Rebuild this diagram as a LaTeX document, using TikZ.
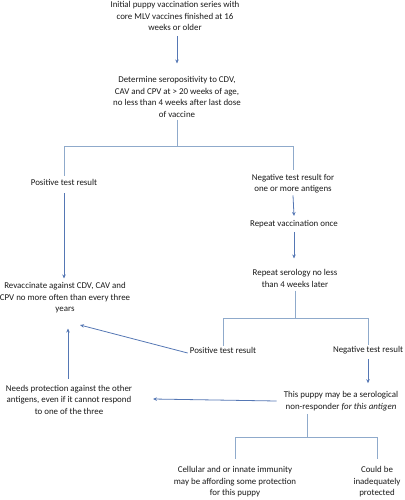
\documentclass[tikz,border=0pt]{standalone}
\usepackage{fontspec}
\setmainfont{Carlito}
\usetikzlibrary{arrows.meta}
\definecolor{lc}{HTML}{8FAACB}
\definecolor{ac}{HTML}{5577B4}
\begin{document}
\begin{tikzpicture}[x=1pt,y=-1pt,
  txt/.style={align=center,inner sep=0pt,font=\fontsize{8.9}{11.5}\selectfont,text=black!90},
  ln/.style={draw=lc,line width=0.8pt},
  arr/.style={draw=ac,line width=0.8pt,-{Stealth[length=4pt,width=3.5pt]}}]
\useasboundingbox (0,0) rectangle (404,500);
\node[txt] (n1) at (175,16) {Initial puppy vaccination series with\\core MLV vaccines finished at 16\\weeks or older};
\node[txt] (n2) at (177,97) {Determine seropositivity to CDV,\\CAV and CPV at > 20 weeks of age,\\no less than 4 weeks after last dose\\of vaccine};
\node[txt] (pos1) at (64,182) {Positive test result};
\node[txt] (neg1) at (293,183.5) {Negative test result for\\one or more antigens};
\node[txt] (rv) at (294,224) {Repeat vaccination once};
\node[txt] (rs) at (295,278.5) {Repeat serology no less\\than 4 weeks later};
\node[txt] (rev) at (65,298) {Revaccinate against CDV, CAV and\\CPV no more often than every three\\years};
\node[txt] (pos2) at (223,350) {Positive test result};
\node[txt] (neg2) at (368,350) {Negative test result};
\node[txt] (np) at (341,401) {This puppy may be a serological\\non-responder \textit{for this antigen}};
\node[txt] (needs) at (69,399.5) {Needs protection against the other\\antigens, even if it cannot respond\\to one of the three};
\node[txt] (cell) at (235,482) {Cellular and or innate immunity\\may be affording some protection\\for this puppy};
\node[txt] (could) at (377,482) {Could be\\inadequately\\protected};
\coordinate (j1) at (177,146);
\coordinate (j2) at (295,318);
\coordinate (j3) at (307,437);
\coordinate (t1) at (153,399);
\coordinate (t2) at (80,325);
% connectors
\draw[arr] ([yshift=-5pt]n1.south -| n2.north) -- ([yshift=13pt]n2.north);
\draw[ln] ([yshift=-2pt]n2.south) -- (j1) -| ([yshift=3pt]pos1.north);
\draw[ln] (j1) -| ([yshift=4pt]neg1.north);
\draw[arr] ([yshift=-8pt]pos1.south) -- ([yshift=4pt]pos1.south |- rev.north);
\draw[arr] ([yshift=-2pt]neg1.south) -- ([yshift=4pt]rv.north);
\draw[arr] ([yshift=-4pt]rv.south) -- ([yshift=11pt]rv.south |- rs.north);
\draw[ln] ([yshift=-3pt]rs.south) -- (j2) -| ([yshift=1pt]pos2.north);
\draw[ln] (j2) -| ([yshift=1pt]neg2.north);
\draw[arr] ([xshift=-2pt,yshift=-3pt]pos2.west) -- (t2);
\draw[arr] ([yshift=-5pt]neg2.south) -- ([yshift=8pt]neg2.south |- np.north);
\draw[arr] ([xshift=-7pt]np.west) -- (t1);
\draw[arr] ([xshift=-1pt,yshift=6pt]needs.north) -- ([xshift=-1pt,yshift=-15pt]needs.north |- rev.south);
\draw[ln] ([yshift=-3pt]np.south -| j3) -- (j3) -| ([yshift=7pt]cell.north);
\draw[ln] (j3) -| ([yshift=7pt]could.north);
\end{tikzpicture}
\end{document}
